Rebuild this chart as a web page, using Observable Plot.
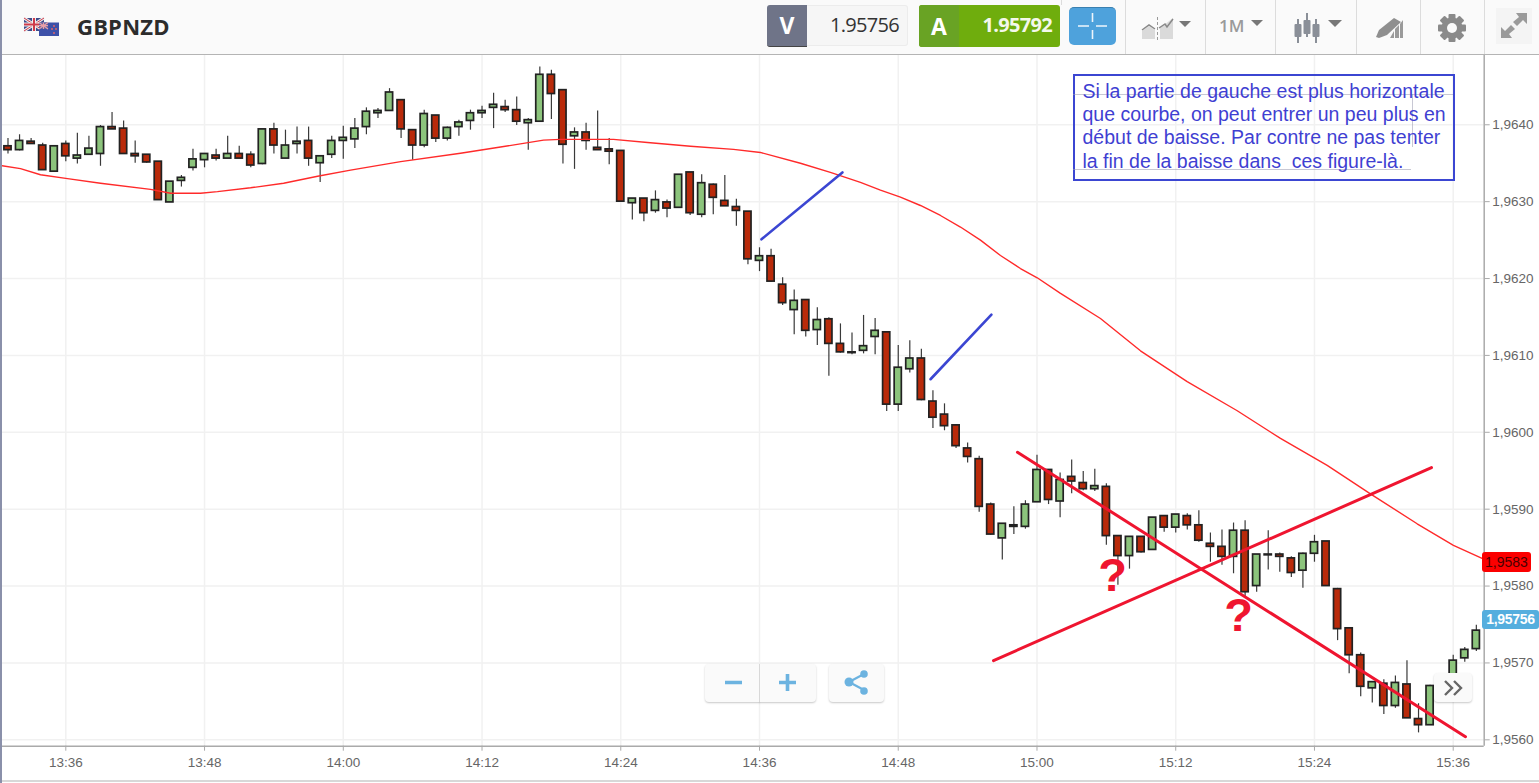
<!DOCTYPE html>
<html lang="fr">
<head>
<meta charset="utf-8">
<title>GBPNZD</title>
<script src="https://cdn.jsdelivr.net/npm/d3@7"></script>
<script src="https://cdn.jsdelivr.net/npm/@observablehq/plot@0.6"></script>
<style>
html,body{margin:0;padding:0;width:1539px;height:783px;overflow:hidden;background:#fff;font-family:"Liberation Sans",Arial,sans-serif}
#page{position:relative;width:1539px;height:783px;overflow:hidden}
#chart{position:absolute;left:0;top:54px;width:1539px;height:729px}
#chart svg{display:block;background:transparent}
.abs{position:absolute}
#header{position:absolute;left:0;top:0;width:1539px;height:54px;background:#fafafa;border-bottom:1.5px solid #b4b4b4;box-sizing:content-box}
.div{position:absolute;top:0;width:1px;height:54px;background:#dcdcdc}
#leftbar{position:absolute;left:0;top:0;width:2px;height:783px;background:#8a90aa;z-index:5}
#bottomline{position:absolute;left:0;top:780px;width:1539px;height:1.5px;background:#d8d8d8}
#note{position:absolute;left:1073px;top:74px;width:378px;height:103px;border:2.5px solid #3b46d2;color:#3f3fd2;font:19.5px/23.4px "Liberation Sans",Arial,sans-serif;padding:0;white-space:pre}
#note .t{position:absolute;left:7.5px;top:3.5px}
.faint{position:absolute;background:#9a9ab0;opacity:.55}
.btn{position:absolute;background:#fafafa;border-radius:4px;box-shadow:0 1px 2px rgba(0,0,0,.22)}
.tag{position:absolute;border-radius:3px;font:14px/20px "Liberation Sans",Arial,sans-serif;text-align:center}
</style>
</head>
<body>
<div id="page">
  <div id="chart"></div>
  <div id="bottomline"></div>
  <div id="header">
    <svg class="abs" style="left:23px;top:17px" width="38" height="20" viewBox="0 0 38 20">
      <rect x="1" y="1" width="20" height="13" fill="#3d4a8a"/>
      <path d="M1 1L21 14M21 1L1 14" stroke="#eee" stroke-width="3"/>
      <path d="M1 1L21 14M21 1L1 14" stroke="#cf3a4a" stroke-width="1"/>
      <path d="M11 1V14M1 7.5H21" stroke="#eee" stroke-width="4"/>
      <path d="M11 1V14M1 7.5H21" stroke="#cf3a4a" stroke-width="2"/>
      <rect x="16" y="5.5" width="20" height="13.5" fill="#3d51a8"/>
      <rect x="16" y="5.5" width="9" height="6.5" fill="#5a5f9e"/>
      <path d="M16 5.5L25 12M25 5.5L16 12M20.5 5.5V12M16 8.7H25" stroke="#e8a0a8" stroke-width="1.2"/>
      <circle cx="31" cy="9" r=".9" fill="#e66"/><circle cx="29" cy="12" r=".9" fill="#e66"/><circle cx="33" cy="12" r=".9" fill="#e66"/><circle cx="31" cy="16" r=".9" fill="#e66"/>
    </svg>
    <div class="abs" style="left:77px;top:11px;font:700 22px/30px 'Open Sans',sans-serif;color:#2c2c2c;letter-spacing:.2px">GBPNZD</div>

    <div class="abs" style="left:807px;top:5px;width:101px;height:41px;background:#f6f6f6;border:1px solid #ececec;border-left:0;border-radius:0 3px 3px 0;box-sizing:border-box"></div>
    <div class="abs" style="left:767px;top:5px;width:40px;height:42px;background:#6f7488;border-radius:3px 0 0 3px;border-bottom:1px solid #444;box-sizing:border-box;color:#fff;font:700 23px/41px 'Open Sans',sans-serif;text-align:center">V</div>
    <div class="abs" style="left:810px;top:10px;width:89px;text-align:right;font:400 20px/30px 'Open Sans',sans-serif;color:#333;letter-spacing:-.7px">1.95756</div>

    <div class="abs" style="left:919px;top:5px;width:141px;height:42px;background:#6fad0d;border-radius:3px"></div>
    <div class="abs" style="left:919px;top:5px;width:40px;height:42px;background:#69a324;border-radius:3px 0 0 3px;color:#fff;font:700 23px/42px 'Open Sans',sans-serif;text-align:center">A</div>
    <div class="abs" style="left:960px;top:10px;width:92px;text-align:right;font:700 20px/30px 'Open Sans',sans-serif;color:#f4f8ec;letter-spacing:-.7px">1.95792</div>

    <div class="abs" style="left:1069px;top:7px;width:47px;height:38px;background:#4ea2dc;border-radius:5px;border-top:1px solid #3a80b0;box-sizing:border-box"></div>
    <svg class="abs" style="left:1069px;top:7px" width="47" height="38"><path d="M9 19H20M27 19H38M23.5 6V15M23.5 23V32" stroke="#fff" stroke-width="1.6" opacity=".9"/></svg>

    <div class="div" style="left:1061px;height:5px"></div>
    <div class="div" style="left:1125px"></div>
    <div class="div" style="left:1205px"></div>
    <div class="div" style="left:1275px"></div>
    <div class="div" style="left:1356px"></div>
    <div class="div" style="left:1420px"></div>
    <div class="div" style="left:1484px"></div>

    <svg class="abs" style="left:1138px;top:14px" width="60" height="28">
      <path d="M4 25V17L11 12L17 16V25Z" fill="#dadada"/><path d="M22 25V13L26 11L35 4V25Z" fill="#dadada"/>
      <path d="M4 16L11 11L17 15" fill="none" stroke="#888" stroke-width="1.5"/><path d="M21 14L27 10L29 13L35 5" fill="none" stroke="#888" stroke-width="1.5"/>
      <path d="M19.5 3V26" stroke="#999" stroke-width="1" stroke-dasharray="3 2"/>
      <path d="M41 7H53L47 13Z" fill="#777"/>
    </svg>
    <div class="abs" style="left:1219px;top:13px;font:600 17px/26px 'Open Sans',sans-serif;color:#9a9a9a">1M</div>
    <svg class="abs" style="left:1250px;top:19px" width="14" height="8"><path d="M1 1H13L7 7Z" fill="#777"/></svg>
    <svg class="abs" style="left:1290px;top:11px" width="60" height="34">
      <path d="M8 8V32M17 2V26M26 8V32" stroke="#8a8f98" stroke-width="2"/>
      <rect x="4.500" y="13" width="7" height="13" rx="1" fill="#8a8f98"/><rect x="13.500" y="9" width="7" height="14" rx="1" fill="#8a8f98"/><rect x="22.500" y="13" width="7" height="13" rx="1" fill="#8a8f98"/>
      <path d="M38 9H52L45 16Z" fill="#777"/>
    </svg>
    <svg class="abs" style="left:1374px;top:16px" width="32" height="24">
      <path d="M2 21L5 14L20 2L27 6L13 19L5 22Z" fill="#8f8f8f"/><path d="M16 22L20 15V22ZM21 22V13L25 9V22ZM26 22V8L29 4V22Z" fill="#9a9a9a"/>
    </svg>
    <svg class="abs" style="left:1437px;top:13px" width="30" height="30" viewBox="-15 -15 30 30">
      <g fill="#8a8a8a"><circle r="10.500"/>
      <rect x="-3.500" y="-14" width="7" height="28" rx="1"/><rect x="-3.500" y="-14" width="7" height="28" rx="1" transform="rotate(45)"/><rect x="-3.500" y="-14" width="7" height="28" rx="1" transform="rotate(90)"/><rect x="-3.500" y="-14" width="7" height="28" rx="1" transform="rotate(135)"/></g>
      <circle r="5" fill="#fafafa"/>
    </svg>
    <div class="abs" style="left:1496px;top:8px;width:36px;height:36px;background:#f4f4f4"></div>
    <svg class="abs" style="left:1500px;top:12px" width="28" height="27">
      <path d="M16 1H27V12L23 8L17 14L13 10L19 5ZM1 15L5 19L11 13L15 17L9 22L12 26H1Z" fill="#9a9a9a"/>
    </svg>
  </div>
  <div id="leftbar"></div>

  <div id="note">
    <div class="faint" style="left:-2px;top:18px;width:380px;height:1px"></div>
    <div class="faint" style="left:337px;top:18px;width:1px;height:53px"></div>
    <div class="faint" style="left:-2px;top:93px;width:338px;height:1px"></div>
    <div class="t">Si la partie de gauche est plus horizontale
que courbe, on peut entrer un peu plus en
début de baisse. Par contre ne pas tenter
la fin de la baisse dans  ces figure-là.</div>
  </div>

  <div class="tag" style="left:1482px;top:552px;width:49px;height:20px;background:#fb0000;color:#4a0000">1,9583</div>
  <div class="tag" style="left:1482px;top:610px;width:57px;height:19px;line-height:19px;background:#55aede;color:#fff;font-weight:700;letter-spacing:-.3px">1,95756</div>

  <div class="btn" style="left:705px;top:664px;width:111px;height:38px"></div>
  <div class="abs" style="left:759px;top:664px;width:1px;height:38px;background:#d8d8d8"></div>
  <svg class="abs" style="left:705px;top:664px" width="111" height="38"><path d="M20 18.500H37M74 18.500H91M82.500 10V27" stroke="#6cb3e0" stroke-width="3.600" fill="none"/></svg>
  <div class="btn" style="left:829px;top:664px;width:55px;height:38px"></div>
  <svg class="abs" style="left:829px;top:664px" width="55" height="38"><path d="M20 18L35 10M20 18L35 26" stroke="#6cb3e0" stroke-width="2.200"/><circle cx="20" cy="18" r="4.500" fill="#6cb3e0"/><circle cx="35" cy="10" r="3.800" fill="#6cb3e0"/><circle cx="35" cy="27" r="3.800" fill="#6cb3e0"/></svg>
  <div class="btn" style="left:1434px;top:673px;width:38px;height:29px"></div>
  <svg class="abs" style="left:1434px;top:673px" width="38" height="29"><path d="M11 8L18 15L11 22M20 8L27 15L20 22" fill="none" stroke="#666" stroke-width="2.400"/></svg>
</div>

<script>
// Prices are in points: 1 point = 0.00001, so 196400 is 1,96400.
const firstMinute = 811; // 13:31, in minutes since midnight

const high = [
196382,196387,196382,196376,196372,196379,196389,196385,196399,196416,
196405,196379,196361,196352,196326,196334,196368,196362,196368,196385,
196372,196365,196394,196402,196393,196397,196397,196359,196385,196398,
196408,196422,196421,196447,196432,196393,196419,196412,196397,196406,
196419,196424,196441,196432,196436,196408,196475,196471,196445,196396,
196402,196418,196382,196366,196304,196304,196314,196302,196335,196338,
196335,196323,196334,196303,196287,196240,196238,196201,196185,196172,
196162,196149,196141,196129,196152,196148,196130,196113,196119,196108,
196054,196037,196010,195986,195969,195908,195881,195903,195911,195970,
195951,195947,195964,195949,195952,195933,195865,195864,195864,195889,
195891,195893,195894,195898,195869,195873,195882,195885,195841,195872,
195843,195838,195843,195866,195858,195797,195745,195713,195676,195678,
195683,195703,195647,195671,195677,195710,195720,195749];

const low = [
196362,196366,196375,196341,196339,196352,196349,196361,196346,196394,
196362,196350,196350,196302,196299,196319,196340,196344,196353,196356,
196356,196344,196348,196362,196356,196362,196346,196325,196356,196355,
196369,196387,196408,196418,196382,196354,196370,196377,196379,196385,
196393,196408,196395,196416,196399,196367,196404,196407,196349,196342,
196367,196367,196348,196300,196276,196274,196285,196279,196292,196282,
196279,196283,196294,196268,196218,196209,196195,196165,196127,196124,
196113,196073,196103,196101,196102,196101,196027,196027,196077,196041,
196005,196002,195979,195960,195896,195866,195834,195867,195874,195909,
195906,195889,195920,195924,195923,195853,195801,195822,195843,195847,
195870,195869,195873,195857,195831,195827,195816,195786,195792,195821,
195818,195811,195797,195831,195800,195729,195686,195656,195648,195633,
195641,195628,195609,195619,195660,195671,195701,195715];

const open = [
196372,196367,196378,196373,196339,196375,196356,196361,196362,196397,
196395,196362,196361,196352,196299,196327,196344,196354,196360,196356,
196362,196361,196349,196394,196356,196375,196379,196350,196361,196379,
196381,196397,196415,196418,196432,196393,196373,196412,196382,196397,
196405,196415,196422,196423,196419,196402,196404,196465,196445,196385,
196390,196370,196368,196366,196298,196304,196288,196299,196292,196338,
196283,196322,196301,196293,196287,196223,196229,196192,196159,196172,
196133,196147,196115,196104,196106,196124,196130,196036,196082,196096,
196040,196023,196009,195979,195965,195906,195862,195879,195877,195909,
195951,195910,195942,195934,195926,195929,195865,195839,195864,195847,
195891,195876,195891,195879,195855,195851,195838,195872,195800,195840,
195841,195836,195820,195842,195858,195796,195745,195710,195667,195673,
195644,195672,195627,195619,195664,195673,195706,195718];

const close = [
196367,196379,196375,196341,196372,196359,196360,196369,196397,196394,
196362,196359,196351,196302,196326,196331,196355,196362,196356,196362,
196356,196347,196394,196373,196373,196378,196356,196359,196379,196383,
196395,196417,196418,196442,196394,196373,196414,196382,196396,196403,
196415,196418,196426,196419,196404,196406,196465,196440,196374,196390,
196379,196367,196365,196300,196304,196285,196302,196291,196335,196285,
196324,196305,196294,196288,196225,196229,196196,196168,196171,196132,
196146,196115,196104,196103,196112,196132,196036,196084,196096,196042,
196019,196008,195982,195968,195903,195867,195881,195877,195906,195951,
195912,195938,195936,195926,195930,195865,195839,195864,195844,195889,
195876,195893,195879,195859,195851,195838,195872,195792,195841,195841,
195838,195817,195842,195857,195800,195744,195710,195669,195675,195644,
195674,195628,195619,195670,195673,195703,195717,195742];

// Moving average
const maMinute = [810.35,812.08,813.81,816.15,819,823.33,825.06,827.65,829.12,831.98,834.84,837.78,840.63,844.96,850.14,853.6,857.32,858.79,863.37,866.31,870.03,873.75,876.08,879.54,882.13,884.73,886.46,888.19,889.92,891.65,893.38,895.11,896.84,898.57,900.02,902,905.49,908.95,912.99,917.32,921.06,925.1,928.84,932.88,936.02,938.64];
const maValue = [196347,196343,196335,196330,196324,196316,196311,196311,196313,196318,196324,196333,196341,196352,196363,196371,196380,196381,196381,196377,196372,196368,196364,196350,196338,196325,196315,196306,196295,196282,196267,196250,196230,196213,196201,196181,196148,196106,196066,196028,195992,195957,195920,195881,195853,195835];

// Hand-drawn trend strokes on the chart, as [minute, price] ends
const blueStrokes = [
  [[876.17,196251],[883.17,196338]],
  [[890.79,196069],[896.06,196153]]
];
const redStrokes = [
  [[898.31,195974],[937.06,195604]],
  [[896.24,195703],[934.12,195954]]
];
const questionMarks = [[906.53,195794],[917.43,195741]];

const xTicks = [816,828,840,852,864,876,888,900,912,924,936];
const yTicks = [195600,195700,195800,195900,196000,196100,196200,196300,196400];
const xDomain = [810.352,938.68];
const yDomain = [195591.7,196491.4];

const candles = high.map((h,i)=>({t:firstMinute+i,high:h,low:low[i],open:open[i],close:close[i]}));
const hhmm = m => String(Math.floor(m/60)).padStart(2,"0")+":"+String(m%60).padStart(2,"0");
const priceLabel = v => (v/100000).toFixed(4).replace(".",",");
const GREEN="#8cc47c", RED="#b92a0a", INK="#222", AXIS="#aaaaaa", TXT="#666";
const strokeRows = (list)=>list.flatMap((s,k)=>s.map(p=>({k,x:p[0],y:p[1]})));

const chart = Plot.plot({
  width:1539,height:729,
  marginLeft:0,marginRight:55.3,marginTop:0,marginBottom:37.3,
  x:{type:"linear",domain:xDomain},
  y:{type:"linear",domain:yDomain},
  style:{background:"transparent",fontFamily:'"Liberation Sans",Arial,sans-serif'},
  marks:[
    Plot.ruleX(xTicks,{stroke:"#f1f1f1",strokeWidth:1.5}),
    Plot.ruleY(yTicks,{stroke:"#f1f1f1",strokeWidth:1.5}),
    Plot.ruleX(xDomain.slice(1),{stroke:AXIS,strokeWidth:1.5}),
    Plot.ruleY(yDomain.slice(0,1),{stroke:AXIS,strokeWidth:1.5}),
    Plot.axisX({ticks:xTicks,tickFormat:hhmm,tickSize:5,tickPadding:6,fontSize:13.5,color:TXT,stroke:AXIS,label:null}),
    Plot.axisY({anchor:"right",ticks:yTicks,tickFormat:priceLabel,tickSize:5,tickPadding:3,fontSize:13.5,color:TXT,stroke:AXIS,label:null}),
    Plot.ruleX(candles,{x:"t",y1:"low",y2:"high",stroke:"#3a3a3a",strokeWidth:1.2}),
    Plot.rect(candles,{
      x1:d=>d.t-0.31,x2:d=>d.t+0.31,y1:"open",y2:"close",
      fill:d=>d.close>=d.open?GREEN:RED,stroke:INK,strokeWidth:1.7
    }),
    Plot.line(maMinute.map((m,i)=>({x:m,y:maValue[i]})),{x:"x",y:"y",stroke:"#ff2a2a",strokeWidth:1.4}),
    Plot.line(strokeRows(blueStrokes),{x:"x",y:"y",z:"k",stroke:"#3b46d2",strokeWidth:2.6}),
    Plot.line(strokeRows(redStrokes),{x:"x",y:"y",z:"k",stroke:"#ef1530",strokeWidth:3}),
    Plot.text(questionMarks,{x:d=>d[0],y:d=>d[1],text:()=>"?",fill:"#ef1530",fontSize:47,fontWeight:700,lineAnchor:"bottom",dy:0,textAnchor:"middle"})
  ]
});
document.getElementById("chart").appendChild(chart);
</script>
</body>
</html>
